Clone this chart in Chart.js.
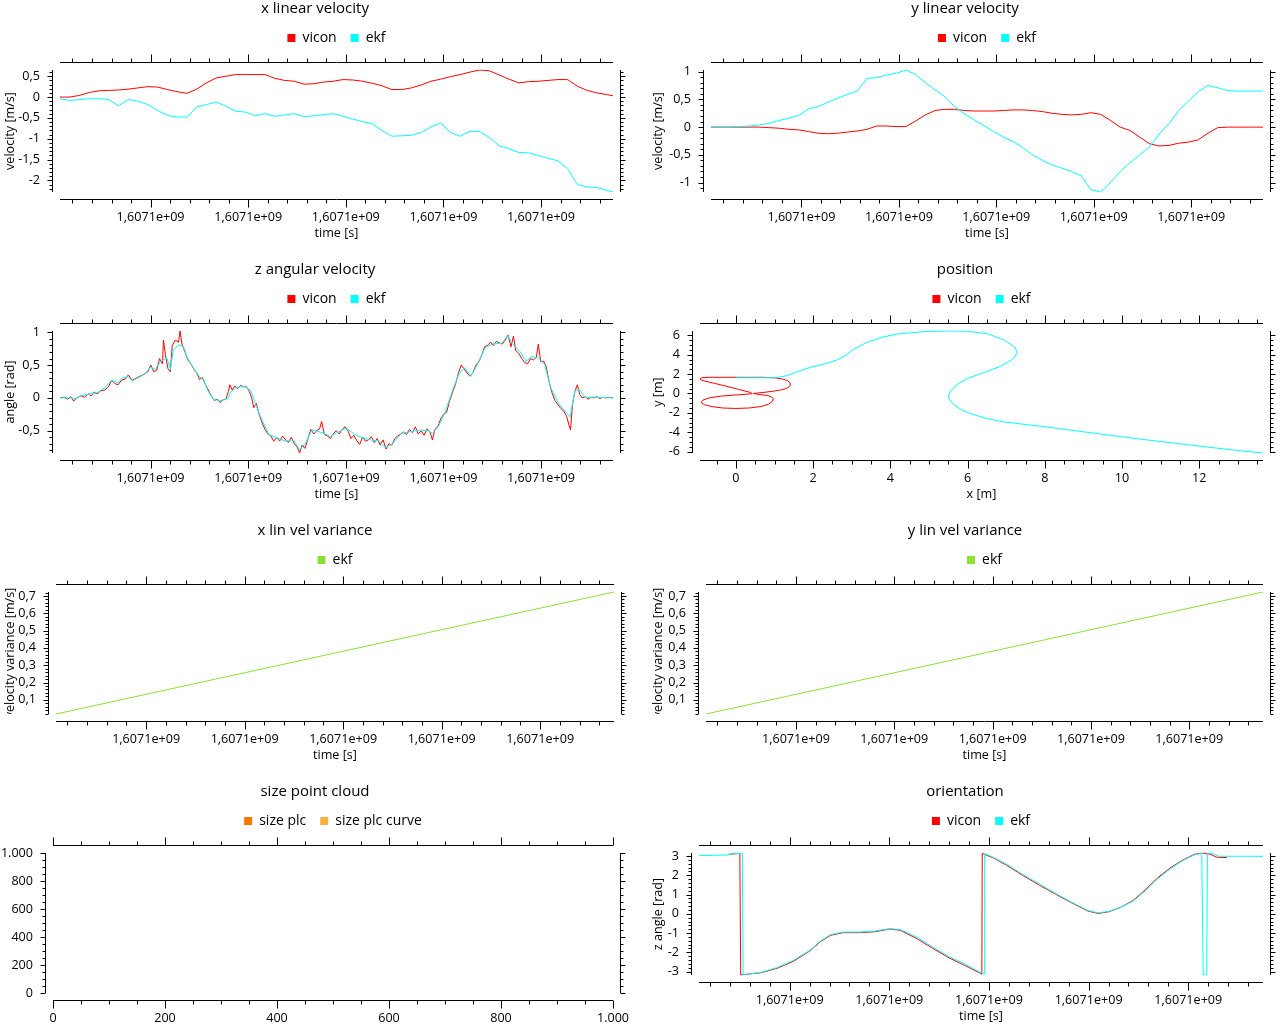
<!DOCTYPE html>
<html>
<head>
<meta charset="utf-8">
<script src="https://cdn.jsdelivr.net/npm/chart.js@4.4.1/dist/chart.umd.min.js"></script>
<style>
html,body{margin:0;padding:0;background:#fff;overflow:hidden;width:1280px;height:1024px;}
canvas{position:absolute;display:block;}
</style>
</head>
<body>
<canvas id="c1" width="630" height="261" style="left:0;top:0"></canvas>
<canvas id="c2" width="630" height="261" style="left:650px;top:0"></canvas>
<canvas id="c3" width="630" height="261" style="left:0;top:261px"></canvas>
<canvas id="c4" width="630" height="261" style="left:650px;top:261px"></canvas>
<canvas id="c5" width="630" height="261" style="left:0;top:522px"></canvas>
<canvas id="c6" width="630" height="261" style="left:650px;top:522px"></canvas>
<canvas id="c7" width="630" height="261" style="left:0;top:783px"></canvas>
<canvas id="c8" width="630" height="261" style="left:650px;top:783px"></canvas>
<script>
// ---------------- DATA ----------------
const T0 = 1607100000;            // time base [s]
const startA = 21.44;             // start offset for velocity panels
const startVar = 21.7;            // start offset for variance panels
const startOri = 21.8;            // start offset for orientation panel

// x / y linear velocity: common time samples [s from start]
const tGrid = [0,2,4,6,8,10,12,14,16,18,20,22,24,26,28,30,32,34,36,38,40,42,44,46,48,50,52,54,56,58,60,62,64,66,68,70,72,74,76,78,80,82,84,86,88,90,92,94,96,98,100,102,104,106,108,110,112,113.3];
const xvelVicon = [0,0,0.04,0.11,0.15,0.16,0.17,0.19,0.22,0.25,0.24,0.18,0.13,0.09,0.19,0.34,0.46,0.50,0.54,0.54,0.54,0.54,0.45,0.40,0.38,0.31,0.32,0.36,0.38,0.42,0.41,0.38,0.33,0.27,0.18,0.18,0.22,0.29,0.38,0.43,0.49,0.54,0.60,0.65,0.63,0.53,0.43,0.34,0.37,0.38,0.40,0.42,0.42,0.26,0.16,0.10,0.06,0.03];
const xvelEkf = [-0.04,-0.08,-0.06,-0.04,-0.04,-0.06,-0.21,-0.06,-0.10,-0.18,-0.32,-0.44,-0.48,-0.48,-0.24,-0.18,-0.12,-0.22,-0.34,-0.36,-0.45,-0.40,-0.46,-0.43,-0.40,-0.47,-0.45,-0.42,-0.40,-0.46,-0.53,-0.59,-0.64,-0.81,-0.94,-0.93,-0.92,-0.85,-0.72,-0.62,-0.85,-0.94,-0.82,-0.83,-0.97,-1.17,-1.24,-1.33,-1.34,-1.40,-1.47,-1.53,-1.72,-2.10,-2.16,-2.17,-2.24,-2.28];
const yvelVicon = [0,0,0,0,0,0,-0.01,-0.02,-0.04,-0.05,-0.08,-0.11,-0.12,-0.11,-0.09,-0.07,-0.04,0.02,0.02,0.01,0.01,0.11,0.22,0.30,0.32,0.32,0.30,0.29,0.29,0.29,0.30,0.31,0.31,0.30,0.28,0.25,0.23,0.22,0.23,0.26,0.23,0.12,0,-0.06,-0.18,-0.30,-0.34,-0.33,-0.29,-0.27,-0.23,-0.11,-0.01,0,0,0,0,0];
const yvelEkf = [0,0,0,0.01,0.02,0.04,0.07,0.12,0.16,0.21,0.33,0.37,0.45,0.52,0.59,0.65,0.88,0.89,0.94,0.97,1.03,0.95,0.80,0.67,0.55,0.37,0.24,0.13,0.03,-0.08,-0.18,-0.26,-0.37,-0.50,-0.60,-0.68,-0.74,-0.80,-0.88,-1.13,-1.17,-1.00,-0.80,-0.64,-0.50,-0.36,-0.12,0.06,0.30,0.47,0.64,0.75,0.71,0.66,0.65,0.65,0.65,0.65];

// z angular velocity
const zvelViconT = [0,0.8,1.6,2.2,2.8,3.4,4.2,5.0,5.8,6.4,7.0,7.6,8.4,9.2,10.0,10.6,11.2,11.9,12.6,13.4,14.0,14.8,15.6,16.4,17.2,18.0,18.6,19.2,19.8,20.4,21.0,21.2,21.6,22.1,22.6,23.0,23.6,24.3,24.6,25.0,25.6,26.2,26.8,27.4,28.0,28.6,29.2,29.8,30.4,31.0,31.6,32.2,32.8,33.4,34.0,34.5,34.8,35.3,35.8,36.4,37.0,37.6,38.2,38.8,39.3,39.7,40.2,40.8,41.4,42.0,42.6,43.2,43.8,44.4,45.0,45.6,46.2,46.8,47.4,48.0,48.6,49.1,49.6,50.2,50.8,51.4,52.0,52.6,53.2,53.6,54.2,54.8,55.4,56.0,56.6,57.2,57.8,58.4,59.0,59.6,60.2,60.8,61.4,62.0,62.6,63.2,63.8,64.4,65.0,65.6,66.2,66.8,67.4,68.0,68.6,69.2,69.8,70.4,71.0,71.6,72.2,72.8,73.4,74.0,74.6,75.2,75.8,76.3,76.8,77.4,78.0,78.6,79.2,79.8,80.4,81.0,81.6,82.2,82.8,83.4,84.0,84.6,85.2,85.8,86.4,87.0,87.6,88.2,88.8,89.4,90.0,90.6,91.2,91.8,92.4,92.9,93.4,94.0,94.6,95.2,95.8,96.4,97.0,97.6,98.0,98.5,99.1,99.6,100.2,100.8,101.4,102.0,102.6,103.2,103.8,104.3,104.6,105.0,105.5,106.0,106.5,107.0,107.6,108.2,108.8,109.4,110.0,110.6,111.2,111.8,112.4,113.3];
const zvelVicon = [0.00,0.01,-0.02,0.02,-0.05,0.00,0.03,0.01,0.06,0.03,0.09,0.06,0.11,0.12,0.18,0.27,0.22,0.20,0.27,0.29,0.35,0.27,0.30,0.33,0.36,0.40,0.50,0.40,0.42,0.60,0.52,0.88,0.66,0.45,0.40,0.80,0.88,0.85,1.02,0.82,0.70,0.58,0.52,0.44,0.38,0.28,0.31,0.20,0.12,0.03,-0.04,-0.02,-0.07,-0.03,-0.02,0.10,0.20,0.12,0.18,0.14,0.19,0.17,0.17,0.10,-0.01,-0.15,-0.08,-0.25,-0.38,-0.48,-0.55,-0.58,-0.66,-0.60,-0.66,-0.58,-0.64,-0.68,-0.60,-0.70,-0.75,-0.84,-0.72,-0.77,-0.62,-0.48,-0.55,-0.50,-0.47,-0.36,-0.56,-0.58,-0.62,-0.55,-0.50,-0.55,-0.48,-0.44,-0.50,-0.62,-0.57,-0.65,-0.71,-0.60,-0.66,-0.64,-0.59,-0.68,-0.62,-0.72,-0.64,-0.78,-0.70,-0.72,-0.62,-0.58,-0.55,-0.52,-0.56,-0.48,-0.53,-0.44,-0.55,-0.50,-0.57,-0.47,-0.52,-0.64,-0.48,-0.44,-0.32,-0.25,-0.22,-0.05,0.08,0.20,0.37,0.50,0.44,0.38,0.33,0.38,0.50,0.55,0.65,0.78,0.80,0.85,0.80,0.86,0.84,0.82,0.88,0.96,0.78,0.94,0.72,0.68,0.60,0.54,0.52,0.60,0.58,0.62,0.82,0.55,0.56,0.48,0.25,0.08,-0.04,-0.10,-0.16,-0.20,-0.28,-0.42,-0.49,-0.10,0.10,0.20,0.05,0.00,0.02,-0.02,0.01,0.00,0.02,-0.01,0.01,0.00,0.01,0.00];
const zvelEkfT = [0,1.8,3.1,4.4,6.0,7.7,9.4,10.6,11.9,12.7,14.0,14.8,16.1,17.3,18.6,19.4,20.7,21.9,22.6,23.2,24.4,25.3,26.1,27.3,28.6,29.4,30.3,31.5,33.2,34.5,34.9,36.1,37.8,39.1,39.9,41.1,42.8,44.5,46.2,47.8,49.1,50.3,51.6,52.8,54.1,55.4,57.0,58.7,60.4,62.0,63.7,65.4,66.6,67.9,70.0,72.1,73.8,75.4,76.3,77.5,78.8,80.4,81.7,82.9,84.2,85.5,87.1,88.8,90.5,91.7,93.0,94.2,95.5,96.7,98.0,99.3,100.5,102.2,103.9,104.5,105.5,106.4,107.6,109.7,113.3];
const zvelEkf = [0,0,-0.01,0.03,0.06,0.08,0.17,0.27,0.23,0.30,0.32,0.26,0.31,0.36,0.47,0.43,0.56,0.61,0.43,0.73,0.81,0.78,0.61,0.46,0.32,0.28,0.11,-0.03,-0.04,-0.01,0.08,0.16,0.18,0.11,-0.06,-0.29,-0.56,-0.61,-0.66,-0.64,-0.79,-0.69,-0.49,-0.51,-0.54,-0.59,-0.52,-0.46,-0.56,-0.61,-0.64,-0.66,-0.76,-0.71,-0.54,-0.51,-0.49,-0.50,-0.54,-0.44,-0.24,0.11,0.36,0.46,0.33,0.51,0.76,0.83,0.83,0.95,0.80,0.71,0.56,0.63,0.61,0.51,0.16,-0.09,-0.24,-0.29,0.11,0.13,0.01,0.01,0];

// position [m]
const posViconX = [0.00,0.40,0.71,1.00,1.20,1.34,1.40,1.41,1.37,1.28,1.15,0.98,0.78,0.58,0.45,0.62,0.80,0.92,0.97,0.95,0.85,0.65,0.35,0.00,-0.35,-0.62,-0.82,-0.90,-0.85,-0.68,-0.40,-0.05,0.25,0.42,0.36,0.07,-0.35,-0.70,-0.88,-0.93,-0.88,-0.70,-0.30,0.00];
const posViconY = [1.67,1.67,1.67,1.62,1.50,1.32,1.10,0.87,0.66,0.48,0.35,0.24,0.14,0.05,0.00,-0.12,-0.20,-0.34,-0.55,-0.80,-1.10,-1.35,-1.50,-1.55,-1.50,-1.36,-1.15,-0.92,-0.68,-0.45,-0.28,-0.17,-0.09,-0.02,0.12,0.42,0.85,1.18,1.35,1.50,1.62,1.67,1.67,1.67];
const posEkfX = [0.00,0.50,1.03,1.34,1.66,1.98,2.30,2.61,2.83,3.04,3.35,3.78,4.20,4.94,5.58,6.00,6.53,6.95,7.22,7.29,7.16,6.85,6.42,6.00,5.72,5.55,5.50,5.60,5.78,6.05,6.45,6.95,7.60,8.12,9.17,10.23,11.29,12.35,12.98,13.65];
const posEkfY = [1.62,1.62,1.62,1.85,2.35,2.75,3.05,3.45,3.90,4.55,5.20,5.80,6.15,6.40,6.45,6.42,6.15,5.50,4.80,4.20,3.50,2.80,2.15,1.55,0.90,0.20,-0.40,-1.00,-1.55,-2.05,-2.55,-2.95,-3.25,-3.50,-4.05,-4.60,-5.10,-5.60,-5.88,-6.15];

// variances
const varT = [0, 113.3];
const xVarEkf = [0.018, 0.723];
const yVarEkf = [0.018, 0.723];

// size point cloud (no samples)
const sizePlc = [];
const sizePlcCurve = [];

// orientation [rad]
const oriEkfT = [0,5.9,6.7,8.7,8.86,10.0,12.5,15.8,19.0,22.3,24.4,26.4,28.9,32.2,35.4,38.3,40.4,43.6,46.9,50.2,53.5,56.8,57.26,57.34,59.2,61.7,64.9,68.3,71.5,74.8,78.1,80.1,82.2,84.7,87.1,89.6,92.0,94.5,97.0,99.4,100.9,101.2,101.9,102.05,103.1,104.3,113.2];
const oriEkf = [3.02,3.06,3.13,3.14,-3.18,-3.13,-3.04,-2.78,-2.41,-1.89,-1.41,-1.08,-0.95,-0.95,-0.89,-0.77,-0.82,-1.20,-1.72,-2.23,-2.63,-3.09,-3.13,3.13,2.92,2.58,2.06,1.55,1.07,0.60,0.17,0.05,0.12,0.34,0.65,1.20,1.80,2.32,2.75,3.06,3.14,-3.18,-3.18,3.14,3.13,2.99,2.99];
const oriViconT = [5.9,8.2,8.37,9.6,12.5,15.8,19.0,22.3,24.4,26.4,28.9,32.2,35.4,38.3,40.4,43.6,46.9,50.2,53.5,56.6,56.77,56.85,59.2,61.7,64.9,68.3,71.5,74.8,78.1,80.1,82.2,84.7,87.1,89.6,92.0,94.5,97.0,99.4,100.9,102.7,103.9,106.0];
const oriVicon = [3.09,3.14,-3.18,-3.14,-3.06,-2.82,-2.46,-1.92,-1.44,-1.12,-0.98,-0.98,-0.93,-0.79,-0.86,-1.27,-1.79,-2.29,-2.70,-3.11,-3.14,3.14,2.89,2.53,2.01,1.49,1.03,0.57,0.14,0.02,0.10,0.34,0.69,1.25,1.86,2.37,2.78,3.09,3.16,3.09,2.94,2.92];

// ---------------- STYLE / HELPERS ----------------
const FONT = "'Open Sans','Noto Sans',sans-serif";
const RED = '#ff0000', CYAN = '#00ffff', GREEN = '#8ae234', ORANGE = '#f57900', LORANGE = '#fcaf3e';
const CW = 630, CH = 261, AREA_TOP = 70;

function pts(xs, ys, base) {
  const n = Math.min(xs.length, ys.length), out = [];
  for (let i = 0; i < n; i++) out.push({x: base + xs[i], y: ys[i]});
  return out;
}
function fmtNum(v) {
  const r = Math.round(v * 1000) / 1000;
  if (Math.abs(r) >= 1000) return String(r).replace(/\B(?=(\d{3})+(?!\d))/g, '.');
  return String(r).replace('.', ',');
}
function fmtTime(v) { return (v / 1e9).toFixed(4).replace('.', ',') + 'e+09'; }
function fixedTicks(step) {
  return function (scale) {
    const out = [];
    const k0 = Math.ceil(scale.min / step - 1e-9), k1 = Math.floor(scale.max / step + 1e-9);
    for (let k = k0; k <= k1; k++) out.push({value: k * step});
    scale.ticks = out;
  };
}

// axis frame drawn offset from the plot rect (ticks via the chart's scales)
const qcpAxes = {
  id: 'qcpAxes',
  afterDraw(chart, args, o) {
    const {ctx, chartArea: a} = chart;
    const xs = chart.scales.x, ys = chart.scales.y;
    const L = Math.round(a.left), R = Math.round(a.right), T = Math.round(a.top), B = Math.round(a.bottom);
    const g = 7.5;
    ctx.save();
    ctx.strokeStyle = '#000';
    ctx.lineWidth = 1;
    ctx.beginPath();
    ctx.moveTo(L, T - g); ctx.lineTo(R, T - g);
    ctx.moveTo(L, B + g); ctx.lineTo(R, B + g);
    ctx.moveTo(L - g, T); ctx.lineTo(L - g, B);
    ctx.moveTo(R + g, T); ctx.lineTo(R + g, B);
    const hx = (v, len) => {
      const p = Math.round(xs.getPixelForValue(v)) + 0.5;
      ctx.moveTo(p, T - g); ctx.lineTo(p, T - g - len);
      ctx.moveTo(p, B + g); ctx.lineTo(p, B + g + len);
    };
    const vy = (v, len) => {
      const p = Math.round(ys.getPixelForValue(v)) + 0.5;
      ctx.moveTo(L - g, p); ctx.lineTo(L - g - len, p);
      ctx.moveTo(R + g, p); ctx.lineTo(R + g + len, p);
    };
    const doTicks = (s, maj, min, fn, lMaj, lMin) => {
      s.ticks.forEach(t => fn(t.value, lMaj));
      const k0 = Math.ceil(s.min / min - 1e-9), k1 = Math.floor(s.max / min + 1e-9);
      for (let k = k0; k <= k1; k++) {
        const v = k * min, r = v / maj;
        if (Math.abs(r - Math.round(r)) < 1e-6) continue;
        fn(v, lMin);
      }
    };
    doTicks(xs, o.xMaj, o.xMin, hx, 8, 4);
    doTicks(ys, o.yMaj, o.yMin, vy, 5, 3);
    ctx.stroke();
    ctx.restore();
    // long y-axis titles are clipped to the axis height (not squeezed)
    if (o.clipTitle) {
      ctx.save();
      ctx.beginPath();
      ctx.rect(0, T - 7, L, B - T + 7);
      ctx.clip();
      ctx.translate(o.titleX, (T + B) / 2);
      ctx.rotate(-Math.PI / 2);
      ctx.font = '12.6px ' + FONT;
      ctx.fillStyle = '#000';
      ctx.textAlign = 'center';
      ctx.textBaseline = 'middle';
      ctx.fillText(o.clipTitle, 0, 0);
      ctx.restore();
    }
  }
};

const panels = [
  {id: 'c1', title: 'x linear velocity', l: 60, r: 613, b: 192, yTitle: 'velocity [m/s]', yTitleX: 10, xTitle: 'time [s]', time: true,
   xMaj: 20, xMin: 4, yMaj: 0.5, yMin: 0.1,
   series: [{label: 'vicon', color: RED, data: pts(tGrid, xvelVicon, T0 + startA), order: 1},
            {label: 'ekf', color: CYAN, data: pts(tGrid, xvelEkf, T0 + startA), order: 0}]},
  {id: 'c2', title: 'y linear velocity', l: 61, r: 613, b: 192, yTitle: 'velocity [m/s]', yTitleX: 8, xTitle: 'time [s]', time: true,
   xMaj: 20, xMin: 4, yMaj: 0.5, yMin: 0.1,
   series: [{label: 'vicon', color: RED, data: pts(tGrid, yvelVicon, T0 + startA), order: 1},
            {label: 'ekf', color: CYAN, data: pts(tGrid, yvelEkf, T0 + startA), order: 0}]},
  {id: 'c3', title: 'z angular velocity', l: 60, r: 613, b: 192, yTitle: 'angle [rad]', yTitleX: 10, xTitle: 'time [s]', time: true,
   xMaj: 20, xMin: 4, yMaj: 0.5, yMin: 0.1,
   series: [{label: 'vicon', color: RED, data: pts(zvelViconT, zvelVicon, T0 + startA), order: 1},
            {label: 'ekf', color: CYAN, data: pts(zvelEkfT, zvelEkf, T0 + startA), order: 0}]},
  {id: 'c4', title: 'position', l: 50, r: 613, b: 192, yTitle: 'y [m]', yTitleX: 8, xTitle: 'x [m]', time: false,
   xMaj: 2, xMin: 0.5, yMaj: 2, yMin: 0.5,
   series: [{label: 'vicon', color: RED, data: pts(posViconX, posViconY, 0), order: 1},
            {label: 'ekf', color: CYAN, data: pts(posEkfX, posEkfY, 0), order: 0}]},
  {id: 'c5', title: 'x lin vel variance', l: 56, r: 614, b: 192, clipTitle: 'velocity variance [m/s]', yTitleX: 10, xTitle: 'time [s]', time: true,
   xMaj: 20, xMin: 4, yMaj: 0.1, yMin: 0.02,
   series: [{label: 'ekf', color: GREEN, data: pts(varT, xVarEkf, T0 + startVar), order: 0}]},
  {id: 'c6', title: 'y lin vel variance', l: 56, r: 613, b: 192, clipTitle: 'velocity variance [m/s]', yTitleX: 8, xTitle: 'time [s]', time: true,
   xMaj: 20, xMin: 4, yMaj: 0.1, yMin: 0.02,
   series: [{label: 'ekf', color: GREEN, data: pts(varT, yVarEkf, T0 + startVar), order: 0}]},
  {id: 'c7', title: 'size point cloud', l: 53, r: 613, b: 210, yTitle: '', yTitleX: 10, xTitle: '', time: false,
   xMaj: 200, xMin: 50, yMaj: 200, yMin: 50, xRange: [0, 1000], yRange: [0, 1000],
   series: [{label: 'size plc', color: ORANGE, data: sizePlc, order: 0},
            {label: 'size plc curve', color: LORANGE, data: sizePlcCurve, order: 1}]},
  {id: 'c8', title: 'orientation', l: 49, r: 613, b: 192, yTitle: 'z angle [rad]', yTitleX: 8, xTitle: 'time [s]', time: true,
   xMaj: 20, xMin: 4, yMaj: 1, yMin: 0.2,
   series: [{label: 'vicon', color: RED, data: pts(oriViconT, oriVicon, T0 + startOri), order: 1},
            {label: 'ekf', color: CYAN, data: pts(oriEkfT, oriEkf, T0 + startOri), order: 0}]}
];

const TICK_FONT = {family: FONT, size: 12.6};

panels.forEach(p => {
  new Chart(document.getElementById(p.id), {
    type: 'scatter',
    data: {
      datasets: p.series.map(s => ({
        label: s.label, data: s.data, borderColor: s.color, backgroundColor: s.color,
        borderWidth: 1, pointRadius: 0, pointHoverRadius: 0, showLine: true, tension: 0,
        order: s.order, xAxisID: 'x', yAxisID: 'y'
      }))
    },
    options: {
      responsive: false, animation: false, events: [], devicePixelRatio: 1,
      layout: {padding: 0},
      plugins: {
        title: {display: true, text: p.title, color: '#000', font: {family: FONT, size: 15, weight: 'normal', lineHeight: 1}, padding: {top: 1, bottom: 1}},
        legend: {
          display: true, position: 'top', fullSize: false,
          labels: {
            boxWidth: 8, boxHeight: 8, padding: 14, color: '#000', font: {family: FONT, size: 14},
            sort: (a, b) => a.datasetIndex - b.datasetIndex,
            generateLabels: chart => Chart.defaults.plugins.legend.labels.generateLabels(chart).map(it => Object.assign(it, {lineWidth: 0}))
          }
        },
        tooltip: {enabled: false},
        qcpAxes: {xMaj: p.xMaj, xMin: p.xMin, yMaj: p.yMaj, yMin: p.yMin, clipTitle: p.clipTitle || '', titleX: p.yTitleX}
      },
      scales: {
        x: {
          type: 'linear', position: 'bottom', bounds: 'data',
          min: p.xRange ? p.xRange[0] : undefined, max: p.xRange ? p.xRange[1] : undefined,
          afterBuildTicks: fixedTicks(p.xMaj),
          afterFit: s => { s.height = CH - p.b; s.paddingLeft = 0; s.paddingRight = 0; },
          grid: {display: false, drawTicks: false}, border: {display: false},
          ticks: {autoSkip: false, maxRotation: 0, padding: 17.4, color: '#000', font: TICK_FONT,
                  callback: v => p.time ? fmtTime(v) : fmtNum(v)},
          title: {display: !!p.xTitle, text: p.xTitle, color: '#000', font: TICK_FONT, padding: {top: 0, bottom: 20.4}}
        },
        y: {
          type: 'linear', position: 'left', bounds: 'data',
          min: p.yRange ? p.yRange[0] : undefined, max: p.yRange ? p.yRange[1] : undefined,
          afterBuildTicks: fixedTicks(p.yMaj),
          afterFit: s => { s.width = p.l; s.paddingTop = 0; s.paddingBottom = 0; },
          grid: {display: false, drawTicks: false}, border: {display: false},
          ticks: {autoSkip: false, padding: 20, color: '#000', font: TICK_FONT, callback: v => fmtNum(v)},
          title: {display: !!p.yTitle, text: p.yTitle || '', color: '#000', font: TICK_FONT, padding: {top: p.yTitleX - 7.56, bottom: 0}}
        },
        xTop: {
          type: 'linear', position: 'top', display: true,
          grid: {display: false, drawTicks: false}, border: {display: false}, ticks: {display: false},
          afterFit: s => { s.height = AREA_TOP - 55; }
        },
        yRight: {
          type: 'linear', position: 'right', display: true,
          grid: {display: false, drawTicks: false}, border: {display: false}, ticks: {display: false},
          afterFit: s => { s.width = CW - p.r; }
        }
      }
    },
    plugins: [qcpAxes]
  });
});
</script>
</body>
</html>
